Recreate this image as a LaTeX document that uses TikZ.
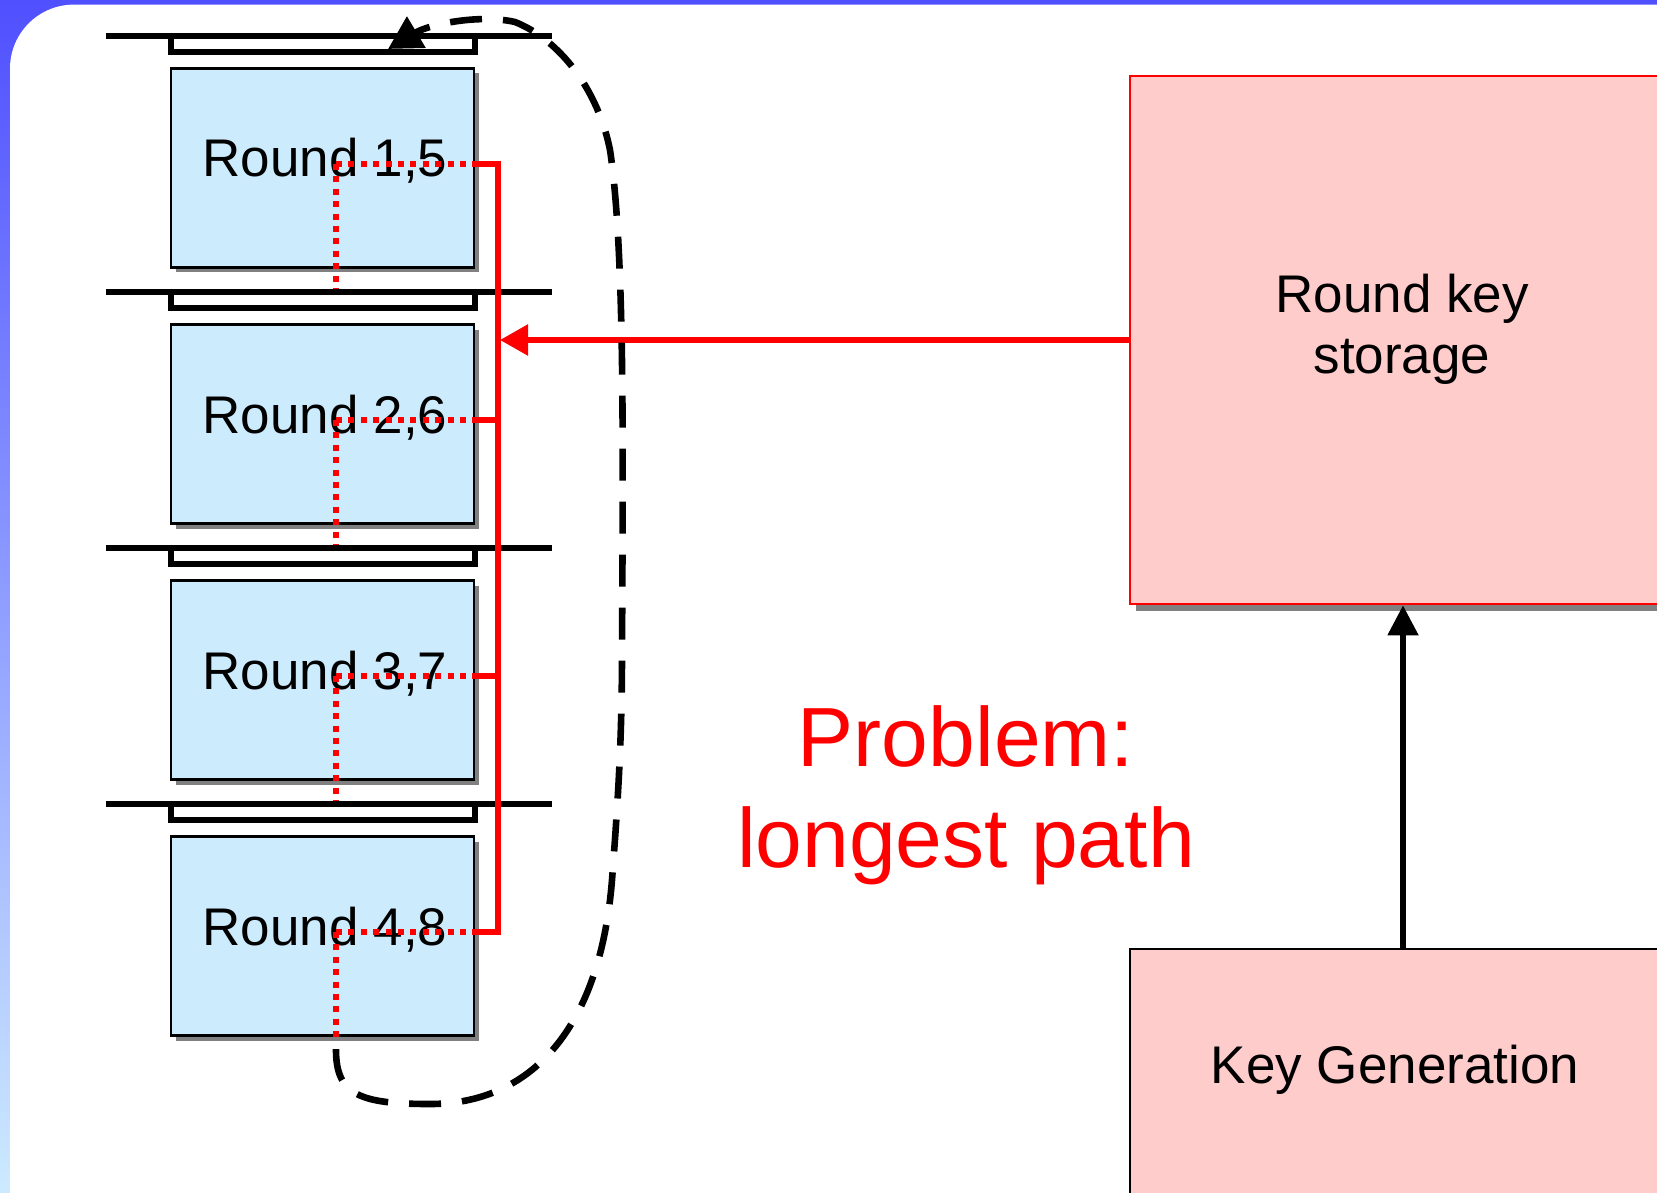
\documentclass[tikz,border=0pt]{standalone}
\usepackage{fontspec}
\setmainfont{Liberation Sans}
\usetikzlibrary{arrows.meta,shadows}
\definecolor{roundfill}{RGB}{204,235,252}
\definecolor{keyfill}{RGB}{255,204,204}
\definecolor{bandtop}{RGB}{80,80,255}
\definecolor{bandbot}{RGB}{204,234,255}
\definecolor{shadowgray}{RGB}{128,128,128}
\begin{document}
\begin{tikzpicture}[x=0.5pt,y=-0.5pt,
  roundbox/.style={draw=black,line width=1.3pt,fill=roundfill,inner sep=0pt,
    minimum width=151.5pt,minimum height=99.5pt,
    drop shadow={shadow xshift=2.5pt,shadow yshift=-2.5pt,fill=shadowgray,opacity=1}},
  regbox/.style={draw=black,line width=3pt,fill=white,inner sep=0pt,
    minimum width=152pt,minimum height=8pt},
  regline/.style={draw=black,line width=3pt},
  txt/.style={font=\fontsize{26.5pt}{30.5pt}\selectfont,anchor=base,inner sep=0pt,align=center},
  redwire/.style={draw=red,line width=2.8pt},
  reddots/.style={draw=red,line width=2.7pt,dash pattern=on 3pt off 3.2pt},
  loopline/.style={draw=black,line width=3.3pt,dash pattern=on 16pt off 10.5pt,dash phase=20pt},
  keybox/.style={fill=keyfill,inner sep=0pt,minimum width=273pt},
]
\useasboundingbox (0,0) rectangle (1657,1192);
\clip (0,0) rectangle (1657,1192);

% slide background: gradient frame and white panel
\fill[top color=bandtop,bottom color=bandbot] (0,0) rectangle (1657,1192);
\fill[white,rounded corners=32pt] (10,1260) -- (10,4.6) -- (1740,4.6) -- (1740,1260) -- cycle;

% pipeline registers
\foreach \y in {36,292,548,804} \draw[regline] (106,\y) -- (552,\y);
\node[regbox] (reg1) at (322.5,44) {};
\node[regbox] (reg2) at (322.5,300) {};
\node[regbox] (reg3) at (322.5,556) {};
\node[regbox] (reg4) at (322.5,812) {};

% round stages
\node[roundbox] (r1) at (322.5,168) {};
\node[roundbox] (r2) at (322.5,424) {};
\node[roundbox] (r3) at (322.5,680) {};
\node[roundbox] (r4) at (322.5,936) {};
\node[txt] (t1) at (325,177) {Round 1,5};
\node[txt] (t2) at (325,433) {Round 2,6};
\node[txt] (t3) at (325,689) {Round 3,7};
\node[txt] (t4) at (325,945) {Round 4,8};

% key taps inside each round
\coordinate (p1) at (336,164);
\coordinate (p2) at (336,420);
\coordinate (p3) at (336,676);
\coordinate (p4) at (336,932);
\draw[reddots] (p1) -- (p1 -| r1.east);
\draw[reddots] (p2) -- (p2 -| r2.east);
\draw[reddots] (p3) -- (p3 -| r3.east);
\draw[reddots] (p4) -- (p4 -| r4.east);
\draw[reddots] (p1) -- (p1 |- reg2.north);
\draw[reddots] (p2) -- (p2 |- reg3.north);
\draw[reddots] (p3) -- (p3 |- reg4.north);
\draw[reddots] (p4) -- (p4 |- r4.south);

% round key bus
\coordinate (bus1) at (498,164);
\coordinate (bus2) at (498,420);
\coordinate (bus3) at (498,676);
\coordinate (bus4) at (498,932);
\draw[redwire] (p1 -| r1.east) -- (bus1) -- (bus4) -- (p4 -| r4.east);
\draw[redwire] (p2 -| r2.east) -- (bus2);
\draw[redwire] (p3 -| r3.east) -- (bus3);

% key storage and generation
\node[keybox,draw=red,line width=1.4pt,minimum height=264pt,
  drop shadow={shadow xshift=3pt,shadow yshift=-3.5pt,fill=shadowgray,opacity=1}] (store) at (1403,340) {};
\node[txt] (storetxt) at (1402,373) {Round key\\storage};
\node[keybox,draw=black,line width=1.2pt,minimum height=150pt] (keygen) at (1403,1099) {};
\node[txt] (keytxt) at (1395,1083) {Key Generation};

\coordinate (busin) at (500,340);
\draw[redwire,-{Triangle[length=14pt,width=15pt]}] (store.west) -- (busin);
\draw[line width=2.6pt,-{Triangle[length=15pt,width=15pt]}] (keygen.north) -- (store.south);

% problem note
\node[txt,text=red,font=\fontsize{42pt}{50.5pt}\selectfont] (problem) at (966,867) {Problem:\\longest path};

% feedback loop from the last round back to the first register
\coordinate (loopstart) at (336,1036);
\coordinate (loopend) at (388,49);
\draw[loopline,-{Triangle[length=16.5pt,width=17.5pt]}] (loopstart) -- (336,1050)
  .. controls (336,1095) and (360,1104) .. (430,1104)
  .. controls (530,1104) and (600,1030) .. (612,880)
  .. controls (618,800) and (622,740) .. (622,650)
  .. controls (623,450) and (625,250) .. (610,150)
  .. controls (598,90) and (560,40) .. (515,22)
  .. controls (480,14) and (430,24) .. (loopend);
\end{tikzpicture}
\end{document}
